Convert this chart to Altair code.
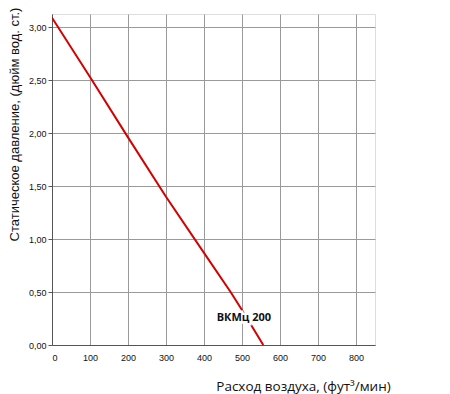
import altair as alt
import pandas as pd

flow = [0, 100, 200, 300, 400, 470, 500, 556]
pressure = [3.09, 2.53, 1.96, 1.40, 0.87, 0.50, 0.33, 0.0]

label_text = ["ВКМц 200"]
label_x = [505]
label_y = [0.258]

x_grid = list(range(0, 851, 50))
y_grid = [i * 0.25 for i in range(0, 13)]

df = pd.DataFrame({"flow": flow, "pressure": pressure})
lab = pd.DataFrame({"t": label_text, "x": label_x, "y": label_y})

xscale = alt.Scale(domain=[0, 850], nice=False, zero=False)
yscale = alt.Scale(domain=[0, 3.125], nice=False, zero=False)

xaxis = alt.Axis(
    values=x_grid,
    labelExpr="datum.value % 100 == 0 ? datum.label : ''",
    format="d",
    grid=True, gridColor="#9a9a9a", gridWidth=1,
    ticks=True, tickSize=0,
    domain=True, domainColor="#555", domainWidth=1,
    labelFont="Liberation Sans", labelFontSize=9, labelColor="#111",
    labelPadding=8,
    title="Расход воздуха, (фут³/мин)",
    titleFont="Open Sans", titleFontSize=13.5, titleFontWeight="normal",
    titleColor="#111",
    titleX=251, titleY=45, titleAlign="center", titleBaseline="alphabetic",
)

yaxis = alt.Axis(
    values=y_grid,
    labelExpr="datum.value % 0.5 == 0 ? replace(format(datum.value, '.2f'), '.', ',') : ''",
    grid=True, gridColor="#9a9a9a", gridWidth=1,
    ticks=True, tickSize=4, tickColor="#555",
    tickOpacity={"condition": {"test": "datum.value % 0.5 != 0", "value": 0}, "value": 1},
    domain=True, domainColor="#555", domainWidth=1,
    labelFont="Liberation Sans", labelFontSize=9, labelColor="#111",
    labelPadding=2,
    title="Статическое давление, (дюйм вод. ст.)",
    titleFont="Liberation Sans", titleFontSize=13, titleFontWeight="normal",
    titleColor="#111",
    titleX=-31, titleY=110, titleAngle=270, titleAlign="center", titleBaseline="bottom",
)

line = alt.Chart(df).mark_line(color="#d40000", strokeWidth=2, clip=True).encode(
    x=alt.X("flow:Q", scale=xscale, axis=xaxis),
    y=alt.Y("pressure:Q", scale=yscale, axis=yaxis),
)

halo = alt.Chart(lab).mark_text(
    font="Open Sans", fontSize=11, fontWeight="bold",
    stroke="white", strokeWidth=5, color="white",
).encode(x=alt.X("x:Q", scale=xscale), y=alt.Y("y:Q", scale=yscale), text="t:N")

text = alt.Chart(lab).mark_text(
    font="Open Sans", fontSize=11, fontWeight="bold", color="#111",
).encode(x=alt.X("x:Q", scale=xscale), y=alt.Y("y:Q", scale=yscale), text="t:N")

chart = alt.layer(line, halo, text).properties(
    width=323, height=331,
    autosize=alt.AutoSizeParams(type="none"),
    padding={"left": 44, "top": 6, "right": 60, "bottom": 55},
).configure_view(stroke="#888", strokeWidth=1).configure(background="white")

chart.save("out.html", embed_options={"renderer": "svg", "actions": False})
